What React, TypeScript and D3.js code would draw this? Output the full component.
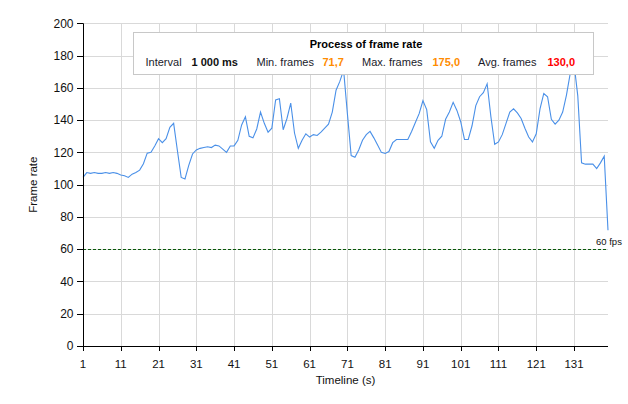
import React from "react";
import * as d3 from "d3";

const frameRates: number[] = [
  104.5, 107.5, 107, 107.5, 107, 107, 107.5, 107, 107.5, 107,
  106, 105.5, 104.5, 106.5, 107.5, 109, 113, 119.5, 120, 124,
  128.5, 126, 128.5, 135.5, 138, 121, 104.5, 103.5, 112, 119,
  121.5, 122.5, 123, 123.5, 123, 124.5, 124, 122, 120, 124,
  124, 127.5, 137, 142, 130, 129, 134.5, 145, 138, 132.5,
  135, 152.5, 153.3, 134, 141, 150.5, 132, 122.5, 127.5, 131.5,
  129.5, 131, 130.5, 132.5, 135, 137.5, 145, 158.5, 164, 171,
  144, 118, 117, 121.5, 127.5, 131, 133, 129, 124.5, 120,
  119.3, 120.5, 126, 128, 128, 128, 128, 133, 138.5, 144,
  152, 146.5, 126.5, 122.5, 127.5, 130, 140.5, 145, 151, 146,
  139, 128, 128, 136.5, 149, 154.5, 157, 162.5, 142, 125,
  126.5, 131, 138, 145, 147, 144.5, 141, 135, 129.5, 126.5,
  131.5, 147, 156.5, 154.5, 140.5, 137.5, 140, 145, 155.5, 169,
  175, 155, 113.5, 112.7, 112.7, 112.7, 110, 113.5, 117.6, 71.7,
];
const seconds: number[] = frameRates.map((_, i) => i + 1);
const xTicks: number[] = [1, 11, 21, 31, 41, 51, 61, 71, 81, 91, 101, 111, 121, 131];
const yTicks: number[] = [0, 20, 40, 60, 80, 100, 120, 140, 160, 180, 200];
const targetFps = 60;
const chartTitle = "Process of frame rate";
const statLabels = ["Interval", "Min. frames", "Max. frames", "Avg. frames"];
const statValues = ["1 000 ms", "71,7", "175,0", "130,0"];

const W = 628;
const H = 404;
const left = 83;
const right = 608;
const top = 23.3;
const bottom = 346;

export default function App() {
  const x = d3.scaleLinear().domain([1, 140]).range([left, right]);
  const y = d3.scaleLinear().domain([0, 200]).range([bottom, top]);
  const line = d3
    .line<number>()
    .x((_, i) => x(seconds[i]))
    .y((d) => y(d));
  const font = "'Liberation Sans', Arial, sans-serif";
  const statColors = ["#111", "#ff8c00", "#ff8c00", "#ff0000"];
  const labelX = [145.5, 256.5, 362, 478];
  const valueX = [191.5, 322.5, 432.5, 547.5];

  return (
    <svg
      width={W}
      height={H}
      style={{ position: "absolute", left: 0, top: 0, background: "#fff" }}
      fontFamily={font}
    >
      {/* grid */}
      {yTicks.slice(1).map((t) => (
        <line key={"gy" + t} x1={left} x2={right} y1={Math.round(y(t)) + 0.5} y2={Math.round(y(t)) + 0.5} stroke="#d9d9d9" />
      ))}
      {xTicks.slice(1).map((t) => (
        <line key={"gx" + t} x1={Math.round(x(t)) + 0.5} x2={Math.round(x(t)) + 0.5} y1={top} y2={bottom} stroke="#d9d9d9" />
      ))}
      {/* 60 fps line */}
      <line
        x1={left}
        x2={right}
        y1={Math.round(y(targetFps)) + 0.5}
        y2={Math.round(y(targetFps)) + 0.5}
        stroke="#0a5a0a"
        strokeDasharray="3,2"
      />
      <text x={596} y={y(targetFps) - 4} fontSize={9.5} fill="#111">
        60 fps
      </text>
      {/* data line */}
      <path d={line(frameRates) || ""} fill="none" stroke="#4a90e8" strokeWidth={1.1} />
      {/* axes */}
      <line x1={left + 0.5} x2={left + 0.5} y1={top} y2={bottom + 0.5} stroke="#000" />
      <line x1={left} x2={right} y1={bottom + 0.5} y2={bottom + 0.5} stroke="#000" />
      {yTicks.map((t) => (
        <g key={"yt" + t}>
          <line x1={left - 6} x2={left} y1={Math.round(y(t)) + 0.5} y2={Math.round(y(t)) + 0.5} stroke="#000" />
          <text x={73.5} y={y(t)} dy="0.35em" textAnchor="end" fontSize={12} fill="#111">
            {t}
          </text>
        </g>
      ))}
      {xTicks.map((t) => (
        <g key={"xt" + t}>
          <line x1={Math.round(x(t)) + 0.5} x2={Math.round(x(t)) + 0.5} y1={bottom} y2={bottom + 5} stroke="#000" />
          <text x={x(t)} y={367.5} textAnchor="middle" fontSize={11.5} fill="#111">
            {t}
          </text>
        </g>
      ))}
      <text x={(left + right) / 2} y={384} textAnchor="middle" fontSize={11.5} fill="#111">
        Timeline (s)
      </text>
      <text
        transform={`translate(37,${(top + bottom) / 2}) rotate(-90)`}
        textAnchor="middle"
        fontSize={11.5}
        fill="#111"
      >
        Frame rate
      </text>
      {/* legend box */}
      <rect x={133.5} y={32.5} width={460} height={42} fill="#fff" stroke="#c8c8c8" />
      <text x={366} y={47.5} textAnchor="middle" fontSize={11} fontWeight="bold" fill="#000">
        {chartTitle}
      </text>
      {statLabels.map((s, i) => (
        <g key={s}>
          <text x={labelX[i]} y={65.5} fontSize={11} fill="#1a1a2a">
            {s}
          </text>
          <text x={valueX[i]} y={65.5} fontSize={11} fontWeight="bold" fill={statColors[i]}>
            {statValues[i]}
          </text>
        </g>
      ))}
    </svg>
  );
}
